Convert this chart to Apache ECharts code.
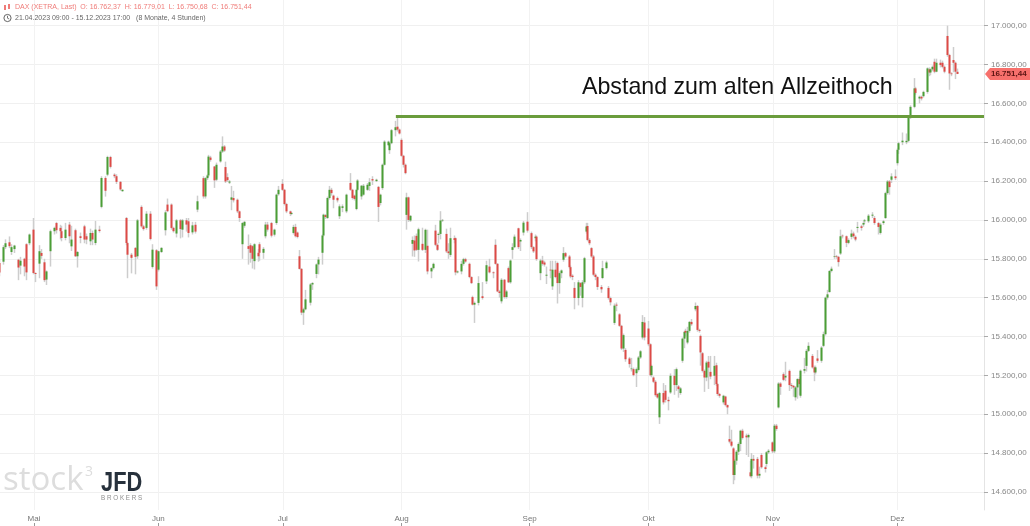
<!DOCTYPE html>
<html><head><meta charset="utf-8">
<style>html,body{margin:0;padding:0;background:#fff}#c{width:1030px;height:526px}</style>
<script src="https://cdn.jsdelivr.net/npm/echarts@6/dist/echarts.min.js"></script></head>
<body><div id="c"></div>
<script>
// rows: [session, open, close, low, high]
const candlesMay=[[0,15778,15730,15710,15796],[2,15785,15860,15770,15870],[3,15860,15880,15850,15900],[5,15885,15865,15855,15915],[6,15835,15860,15820,15875],[8,15850,15868,15830,15872],[10,15795,15755,15690,15800],[11,15765,15790,15720,15810],[13,15800,15760,15710,15805],[14,15875,15730,15690,15880],[16,15880,15925,15870,15930],[18,15950,15727,15720,16010],[19,15727,15722,15680,15730],[21,15775,15839,15700,15870],[22,15830,15815,15800,15850],[24,15782,15690,15680,15800],[25,15693,15735,15665,15740],[27,15839,15942,15760,15950],[29,15942,15959,15925,15965],[30,15984,15947,15930,15990],[32,15959,15942,15900,15975],[33,15942,15907,15890,15970],[35,15907,15950,15895,15985],[37,15976,15916,15880,15990],[38,15864,15899,15840,15970],[40,15947,15813,15810,15955],[41,15813,15835,15755,15840],[43,15916,15907,15880,15935],[45,15967,15899,15880,15975],[46,15916,15899,15875,15930],[48,15890,15933,15870,15955],[49,15933,15899,15870,15945],[51,15881,15950,15870,15995],[53,15950,15943,15935,15970],[54,16067,16216,16060,16225],[56,16216,16150,16120,16225],[57,16233,16324,16225,16330],[59,16324,16273,16265,16330],[61,16233,16225,16215,16240],[62,16225,16196,16185,16235],[64,16196,16157,16150,16200],[65,16148,16155,16145,16158],[67,16010,15881,15870,16015],[68,15881,15821,15700,15885],[70,15821,15805,15725,15830],[72,15856,15810,15720,15860],[73,15813,15998,15800,16005],[75,16067,15967,15960,16075],[76,15967,15953,15945,15975],[78,15959,16032,15950,16045],[80,16032,15902,15895,16045],[81,15758,15847,15750,15875],[83,15844,15658,15640,15850]];
const candlesJun=[[84,15744,15839,15735,15842],[86,15835,15856,15830,15860],[88,15947,16039,15920,16050],[89,16079,16045,16040,16110],[91,16079,15959,15950,16085],[92,15959,15942,15935,15965],[94,15930,15998,15910,16005],[96,15998,15953,15905,16005],[97,15950,15998,15910,16005],[99,15998,15976,15940,16010],[100,15993,15933,15910,16010],[102,15936,15972,15925,15990],[104,15975,15940,15930,15990],[105,16053,16096,16040,16125],[108,16215,16121,16110,16225],[109,16121,16215,16110,16220],[110,16215,16229,16205,16235],[111,16229,16326,16220,16335],[112,16321,16309,16300,16330],[114,16275,16204,16165,16278],[115,16207,16284,16200,16295],[117,16301,16352,16295,16360],[118,16352,16378,16345,16430],[119,16378,16357,16350,16385],[120,16272,16198,16190,16300],[121,16220,16205,16195,16240],[122,16192,16198,16185,16205],[123,16104,16116,16050,16175],[124,16113,16101,16090,16150],[126,16104,16044,16035,16110],[127,16044,16010,15990,16048],[129,15875,15984,15800,15990],[130,15970,15990,15960,15995],[132,15865,15851,15770,15925],[133,15870,15831,15780,15880],[134,15865,15800,15750,15870],[135,15788,15875,15745,15880],[137,15831,15813,15785,15850],[138,15875,15831,15790,15885],[140,15831,15851,15800,15860],[141,15916,15976,15905,15990],[142,15976,15950,15940,15990],[144,15984,15919,15910,15990],[146,15924,15950,15915,15955],[147,15984,16130,15975,16135],[148,16132,16155,16125,16175]];
const candlesJul=[[150,16186,16155,16150,16210],[151,16155,16082,16075,16160],[152,16082,16044,16035,16088],[154,16044,16031,16020,16048],[155,16031,16036,16025,16040],[156,15933,15964,15925,15975],[157,15964,15916,15910,15980],[158,15935,15912,15905,15940],[159,15813,15748,15745,15845],[160,15748,15523,15510,15752],[161,15523,15540,15460,15548],[162,15540,15591,15535,15640],[165,15574,15668,15560,15675],[166,15668,15675,15640,15680],[168,15722,15771,15700,15776],[169,15771,15796,15720,15810],[171,15831,15920,15770,15925],[172,15920,16027,15915,16032],[173,16025,16015,16005,16030],[174,16010,16113,16005,16120],[175,16113,16155,16105,16175],[176,16155,16138,16125,16165],[177,16125,16104,16060,16130],[179,16113,16101,16090,16120],[180,16019,16070,16005,16080],[182,16062,16070,16040,16080],[184,16044,16130,16035,16135],[186,16190,16155,16150,16241],[187,16155,16113,16105,16160],[188,16125,16108,16100,16130],[189,16056,16155,16050,16160],[190,16155,16203,16150,16210],[192,16121,16176,16105,16180],[193,16130,16176,16125,16185],[195,16155,16181,16150,16190],[196,16175,16194,16150,16215],[198,16210,16203,16180,16225],[200,16200,16207,16195,16212],[201,16170,16067,15990,16175],[202,16087,16130,16075,16135],[203,16164,16284,16155,16290],[204,16284,16403,16280,16410],[206,16385,16403,16380,16408],[207,16359,16395,16340,16400],[208,16395,16462,16390,16468],[210,16462,16477,16430,16510],[211,16480,16465,16455,16530],[212,16465,16445,16440,16470]];
const candlesAug=[[213,16412,16330,16325,16420],[214,16330,16284,16270,16335],[215,16284,16241,16235,16290],[216,16026,16116,15950,16140],[217,16116,16000,15990,16120],[218,15997,16021,15990,16025],[219,15877,15897,15812,15915],[220,15894,15843,15810,15920],[221,15918,15846,15840,15930],[222,15846,15952,15786,15960],[224,15877,15846,15840,15960],[226,15846,15949,15830,15955],[227,15867,15735,15720,15950],[229,15735,15752,15700,15756],[230,15752,15774,15745,15780],[231,15945,15872,15865,15975],[232,15872,15846,15840,15880],[233,15923,15928,15880,15935],[234,15928,15997,15900,16045],[235,15997,16000,15990,16005],[237,15928,15838,15830,15955],[238,15838,15829,15800,15880],[239,15820,15906,15810,15960],[241,15906,15897,15880,15920],[242,15906,15730,15715,15910],[243,15730,15735,15725,15740],[245,15735,15774,15720,15790],[246,15774,15798,15765,15805],[247,15798,15786,15780,15805],[249,15774,15706,15700,15780],[250,15706,15675,15670,15710],[251,15603,15564,15560,15610],[252,15564,15573,15470,15580],[254,15573,15675,15560,15710],[256,15607,15598,15590,15680],[258,15684,15767,15670,15790],[260,15760,15730,15725,15800],[262,15730,15726,15700,15735],[263,15872,15774,15770,15900],[264,15774,15632,15628,15778],[265,15632,15624,15600,15640],[266,15581,15692,15570,15700],[268,15692,15603,15595,15696],[269,15603,15632,15595,15640],[270,15752,15679,15675,15760],[271,15679,15791,15672,15796],[272,15846,15860,15800,15880],[273,15860,15914,15855,15925],[275,15957,15860,15850,15960],[276,15889,15897,15840,15905],[278,15935,15986,15920,15995],[280,15991,15945,15935,16040]];
const candlesSep=[[282,15932,15860,15850,15940],[283,15860,15838,15830,15865],[284,15906,15914,15890,15925],[285,15914,15798,15790,15920],[287,15726,15791,15690,15800],[288,15791,15774,15765,15815],[289,15781,15770,15760,15790],[290,15713,15718,15670,15760],[292,15744,15740,15700,15790],[293,15658,15744,15640,15790],[295,15744,15706,15700,15790],[296,15778,15675,15570,15785],[297,15675,15726,15620,15735],[298,15726,15740,15700,15745],[299,15795,15829,15785,15860],[300,15829,15812,15805,15835],[302,15812,15757,15750,15820],[303,15757,15709,15700,15765],[304,15713,15706,15690,15720],[305,15650,15598,15540,15680],[307,15598,15679,15560,15690],[308,15675,15655,15610,15680],[309,15598,15679,15550,15690],[310,15679,15803,15670,15810],[311,15940,15966,15930,15985],[312,15969,15897,15890,15985],[313,15897,15880,15870,15905],[314,15855,15812,15805,15860],[315,15812,15718,15710,15820],[316,15718,15706,15690,15725],[317,15706,15655,15640,15710],[319,15655,15643,15625,15665],[320,15701,15752,15695,15790],[322,15752,15781,15745,15790],[323,15650,15598,15590,15660],[324,15598,15576,15560,15605],[326,15470,15559,15460,15570],[327,15564,15559,15530,15575],[329,15514,15455,15450,15520],[330,15455,15338,15330,15460],[331,15338,15407,15320,15415],[332,15331,15283,15270,15340],[334,15287,15258,15240,15295],[335,15232,15235,15220,15290],[336,15232,15201,15195,15240],[338,15211,15232,15140,15240],[339,15228,15292,15220,15300],[340,15292,15324,15285,15330],[341,15395,15475,15385,15510],[342,15472,15395,15380,15500]];
const candlesOct=[[344,15441,15360,15350,15480],[345,15360,15201,15195,15365],[346,15201,15249,15190,15255],[347,15189,15167,15160,15195],[348,15167,15098,15090,15175],[349,15104,15086,15080,15110],[350,14984,15109,14950,15115],[352,15109,15061,15050,15160],[353,15121,15074,15060,15150],[355,15074,15067,15020,15090],[356,15112,15198,15105,15210],[358,15198,15150,15100,15232],[359,15150,15232,15120,15240],[360,15143,15129,15085,15150],[361,15109,15133,15100,15140],[362,15275,15389,15265,15395],[363,15389,15424,15340,15430],[364,15429,15420,15400,15440],[365,15369,15429,15360,15450],[366,15429,15475,15420,15480],[367,15475,15463,15455,15490],[369,15540,15557,15530,15575],[370,15557,15434,15425,15562],[371,15434,15429,15420,15440],[372,15403,15318,15250,15410],[373,15314,15223,15215,15320],[374,15223,15189,15115,15230],[375,15189,15266,15170,15275],[376,15270,15240,15130,15300],[377,15218,15194,15180,15300],[379,15198,15249,15150,15300],[380,15252,15155,15145,15265],[381,15155,15104,15095,15160],[382,15104,15095,15085,15110],[384,15061,15095,15050,15100],[385,15091,15047,15040,15095],[386,15047,15035,15000,15050],[387,14872,14859,14850,14941],[388,14859,14838,14830,14920],[389,14824,14687,14640,14830],[390,14687,14761,14660,14770],[391,14761,14807,14740,14815],[392,14807,14847,14790,14855],[393,14847,14915,14810,14920],[394,14915,14878,14870,14925],[396,14890,14881,14790,14900],[397,14881,14893,14780,14900],[398,14701,14681,14675,14760],[399,14681,14770,14670,14800],[400,14770,14761,14720,14790],[402,14770,14684,14670,14780],[403,14684,14693,14670,14730],[404,14790,14727,14720,14800],[406,14727,14718,14700,14735],[407,14744,14804,14730,14810],[408,14804,14812,14795,14820]];
const candlesNov=[[410,14855,14809,14800,14860],[411,14809,14941,14800,14950],[412,14941,14924,14915,14950],[413,15035,15158,15030,15165],[414,15158,15141,15100,15165],[416,15206,15177,15170,15215],[417,15189,15198,15170,15270],[419,15223,15150,15120,15230],[420,15150,15145,15130,15160],[421,15146,15138,15090,15150],[422,15087,15138,15070,15145],[423,15138,15181,15080,15185],[424,15181,15155,15100,15190],[425,15095,15224,15085,15230],[427,15224,15232,15210,15290],[428,15249,15326,15220,15335],[429,15326,15352,15320,15370],[431,15300,15241,15235,15310],[432,15241,15215,15170,15250],[433,15215,15241,15205,15250],[434,15287,15275,15265,15330],[436,15275,15343,15265,15350],[437,15352,15412,15345,15425],[438,15412,15600,15405,15605],[439,15600,15617,15590,15640],[440,15629,15737,15625,15742],[441,15737,15749,15730,15760],[443,15810,15813,15800,15850],[444,15813,15810,15800,15820],[445,15810,15783,15760,15815],[446,15827,15916,15820,15950],[447,15919,15916,15905,15925],[449,15916,15882,15860,15920],[450,15882,15896,15875,15905],[452,15913,15930,15900,15950],[453,15930,15916,15905,15940],[454,15913,15899,15890,15920],[455,15959,15964,15935,15990],[457,15967,15959,15945,15975],[458,15976,15984,15965,15992],[459,15993,15998,15980,16005],[461,15993,16022,15985,16030],[463,16022,16027,16010,16040],[464,16010,15984,15975,16020],[466,15984,15964,15925,15990],[467,15933,15976,15925,15985],[469,15984,15993,15975,16000],[470,16010,16138,16005,16145],[471,16138,16198,16130,16205],[472,16198,16169,16130,16205],[473,16207,16224,16190,16240],[475,16224,16215,16205,16260]];
const candlesDec=[[476,16292,16361,16280,16368],[477,16361,16395,16340,16402],[479,16400,16408,16385,16450],[481,16400,16407,16390,16445],[482,16407,16530,16400,16540],[483,16530,16582,16520,16590],[485,16582,16677,16575,16730],[486,16677,16654,16645,16685],[488,16625,16634,16600,16640],[489,16634,16625,16615,16640],[490,16637,16659,16630,16665],[492,16659,16780,16650,16785],[493,16775,16759,16740,16785],[494,16759,16775,16745,16780],[495,16775,16788,16765,16795],[496,16814,16763,16755,16830],[497,16763,16809,16760,16830],[499,16809,16797,16785,16825],[500,16809,16788,16780,16820],[501,16788,16763,16755,16795],[503,16947,16849,16840,17000],[504,16849,16754,16670,16855],[505,16754,16750,16740,16760],[506,16823,16809,16760,16890],[507,16809,16763,16725,16815],[508,16762.37,16751.44,16750.68,16779.01]];
const monthLabels=['Mai','Jun','Jul','Aug','Sep','Okt','Nov','Dez'];
const monthSessions=[18,84,150,213,281,344,410,476];
const sessionCount=523;
const yTicks=[14600,14800,15000,15200,15400,15600,15800,16000,16200,16400,16600,16800,17000];
const allTimeHigh=16532;
const allTimeHighFrom=210;
const lastClose=16751.44;

const fmtDe=v=>v.toLocaleString('de-DE',{minimumFractionDigits:2,maximumFractionDigits:2});
const categories=Array.from({length:sessionCount},(_,i)=>{const k=monthSessions.indexOf(i);return k>=0?monthLabels[k]:'';});
const candles=[].concat(candlesMay,candlesJun,candlesJul,candlesAug,candlesSep,candlesOct,candlesNov,candlesDec);
const bodies=candles.map(r=>[r[0],r[1],r[2],Math.min(r[1],r[2]),Math.max(r[1],r[2])]);
const isMonth=(i,v)=>v!=='';
const GREEN='#4b9e36',RED='#dd4a46',F='"Liberation Sans",Arial,sans-serif';

const chart=echarts.init(document.getElementById('c'),null,{renderer:'canvas'});
chart.setOption({
  animation:false,backgroundColor:'#fff',
  grid:{left:0,top:0,width:984,height:510,containLabel:false},
  xAxis:[{type:'category',data:categories,boundaryGap:false,position:'bottom',
    axisLine:{show:false},axisTick:{show:false},
    axisLabel:{interval:isMonth,color:'#777',fontFamily:F,fontSize:8,margin:5,hideOverlap:false},
    splitLine:{show:true,interval:isMonth,lineStyle:{color:'#f2f2f2',width:1}}},
   {type:'category',data:categories,boundaryGap:false,position:'bottom',offset:13,
    axisLine:{show:false},axisLabel:{show:false},splitLine:{show:false},
    axisTick:{show:true,interval:isMonth,length:3,lineStyle:{color:'#999'}}}],
  yAxis:{type:'value',position:'right',min:14507,max:17132,scale:true,
    axisLine:{show:true,lineStyle:{color:'#e4e4e4'}},
    axisTick:{show:true,length:4,lineStyle:{color:'#aaa'},customValues:yTicks},
    axisLabel:{color:'#888',fontFamily:F,fontSize:8,margin:7,customValues:yTicks,formatter:fmtDe},
    splitLine:{show:true,lineStyle:{color:'#f0f0f0',width:1}}},
  series:[
   {name:'wicks',type:'candlestick',data:candles,encode:{x:0,y:[1,2,3,4]},barWidth:1,z:3,silent:true,
    itemStyle:{color:'#cdcdcd',color0:'#cdcdcd',borderColor:'#cdcdcd',borderColor0:'#cdcdcd',borderWidth:1.5}},
   {name:'DAX',type:'candlestick',data:bodies,encode:{x:0,y:[1,2,3,4]},barWidth:1.3,z:4,silent:true,
    itemStyle:{color:GREEN,color0:RED,borderColor:GREEN,borderColor0:RED,borderWidth:2},
    markLine:{silent:true,symbol:'none',animation:false,label:{show:false},
      lineStyle:{color:'#6a9c3c',width:3,type:'solid'},
      data:[[{coord:[allTimeHighFrom,allTimeHigh]},{coord:[sessionCount-1,allTimeHigh]}]]}}
  ]
});
const tagY=chart.convertToPixel({yAxisIndex:0},lastClose);
chart.setOption({graphic:[
  {type:'text',left:582,top:76,z:10,style:{text:'Abstand zum alten Allzeithoch',fill:'#111',font:'23.2px "Liberation Sans",Arial,sans-serif'}},
  {type:'text',left:15,top:4,z:10,style:{text:'DAX (XETRA, Last)  O: 16.762,37  H: 16.779,01  L: 16.750,68  C: 16.751,44',fill:'#ef7b78',font:'7px "Liberation Sans",Arial,sans-serif'}},
  {type:'text',left:15,top:15,z:10,style:{text:'21.04.2023 09:00 - 15.12.2023 17:00   (8 Monate, 4 Stunden)',fill:'#666',font:'7px "Liberation Sans",Arial,sans-serif'}},
  {type:'rect',shape:{x:4,y:5,width:2,height:5},style:{fill:'#ef7b78'},z:10},
  {type:'rect',shape:{x:8,y:4,width:2,height:5},style:{fill:'#ef7b78'},z:10},
  {type:'circle',shape:{cx:7.5,cy:18,r:3.6},style:{fill:'none',stroke:'#555',lineWidth:0.9},z:10},
  {type:'polyline',shape:{points:[[7.5,15.8],[7.5,18.2],[9.2,19]]},style:{fill:'none',stroke:'#555',lineWidth:0.8},z:10},
  {type:'text',x:3,y:464,z:1,style:{text:'stock',fill:'#dddddd',font:'400 33px "Open Sans","Liberation Sans",sans-serif'}},
  {type:'text',x:85,y:465,z:1,style:{text:'3',fill:'#dddddd',font:'400 14px "Open Sans","Liberation Sans",sans-serif'}},
  {type:'text',x:101,y:469,scaleX:0.78,z:1,style:{text:'JFD',fill:'#27313c',font:'bold 28px "Liberation Sans",Arial,sans-serif'}},
  {type:'text',x:101,y:495,z:1,style:{text:'B R O K E R S',fill:'#8d8d8d',font:'6.3px "Liberation Sans",Arial,sans-serif'}},
  {type:'polygon',shape:{points:[[985,tagY],[990,tagY-6],[1030,tagY-6],[1030,tagY+6],[990,tagY+6]]},style:{fill:'#f7706c'},z:11},
  {type:'text',x:991,y:tagY,z:12,style:{text:fmtDe(lastClose),fill:'#5c1412',font:'bold 8px "Liberation Sans",Arial,sans-serif',textVerticalAlign:'middle'}}
]});
</script></body></html>
